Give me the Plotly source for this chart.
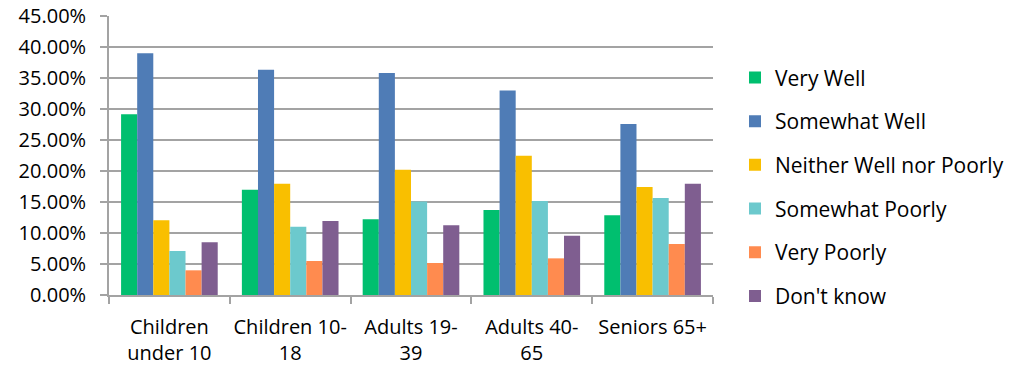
import plotly.graph_objects as go

categories = ["Children<br>under 10", "Children 10-<br>18", "Adults 19-<br>39", "Adults 40-<br>65", "Seniors 65+"]
series_names = ["Very Well", "Somewhat Well", "Neither Well nor Poorly", "Somewhat Poorly", "Very Poorly", "Don't know"]
very_well = [0.2914, 0.1699, 0.1220, 0.1370, 0.1285]
somewhat_well = [0.3898, 0.3634, 0.3580, 0.3300, 0.2758]
neither = [0.1204, 0.1796, 0.2020, 0.2247, 0.1742]
somewhat_poorly = [0.0710, 0.1102, 0.1510, 0.1516, 0.1565]
very_poorly = [0.0398, 0.0548, 0.0516, 0.0591, 0.0823]
dont_know = [0.0849, 0.1194, 0.1124, 0.0957, 0.1796]
colors = ["#00BF6F", "#4F7CB6", "#F9BF00", "#6CC9CD", "#FF8B4F", "#7F5E90"]

series_values = [very_well, somewhat_well, neither, somewhat_poorly, very_poorly, dont_know]

FONT = "'Open Sans', 'Noto Sans', sans-serif"
fig = go.Figure()
for i, (name, vals, col) in enumerate(zip(series_names, series_values, colors)):
    fig.add_trace(go.Bar(x=categories, y=vals, name=name, marker_color=col,
                         marker_line_width=0, legendgroup=f"g{i}"))

fig.update_layout(
    width=1013, height=368,
    margin=dict(l=109, r=300, t=16, b=73, autoexpand=False),
    paper_bgcolor="white", plot_bgcolor="white",
    barmode="group", bargap=0.2, bargroupgap=0,
    font=dict(family=FONT, size=20, color="#000000"),
    legend=dict(x=(735 - 109) / 604, y=0.852, xanchor="left", yanchor="top",
                tracegroupgap=13.4, itemwidth=30, maxheight=1,
                font=dict(family=FONT, size=21, color="#000000")),
    showlegend=True,
)
fig.update_yaxes(range=[0, 0.45], dtick=0.05, tickformat=".2%", automargin=False,
                 showgrid=True, gridcolor="#A3A3A3", gridwidth=1.75,
                 showline=True, linecolor="#A3A3A3", linewidth=1.75,
                 ticks="outside", ticklen=7, tickcolor="#A3A3A3", tickwidth=1.75,
                 ticklabelstandoff=10, zeroline=False)
fig.update_xaxes(showline=True, linecolor="#A3A3A3", linewidth=1.75, automargin=False,
                 tickangle=0,
                 ticks="outside", ticklen=7, tickcolor="#A3A3A3", tickwidth=1.75,
                 tickson="boundaries", ticklabelstandoff=13)

fig.write_html("out.html")
